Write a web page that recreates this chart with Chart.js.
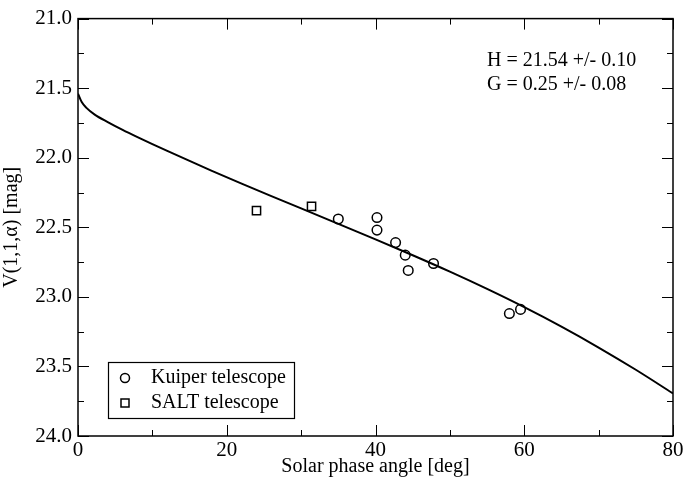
<!DOCTYPE html>
<html>
<head>
<meta charset="utf-8">
<style>
  html, body { margin: 0; padding: 0; background: #fff; }
  #wrap { width: 689px; height: 479px; }
</style>
<script src="https://cdn.jsdelivr.net/npm/chart.js@4/dist/chart.umd.min.js"></script>
</head>
<body>
<div id="wrap"><canvas id="phaseChart" width="689" height="479"></canvas></div>
<script>
// Kuiper telescope observations
const kuiperAngle = [35.0, 40.2, 40.2, 42.7, 44.0, 44.4, 47.8, 58.0, 59.5];
const kuiperMag = [22.44, 22.43, 22.52, 22.61, 22.70, 22.81, 22.76, 23.12, 23.09];

// SALT telescope observations
const saltAngle = [24.0, 31.4];
const saltMag = [22.38, 22.35];

// fitted phase curve
const fitAngle = [0, 0.5, 1.1, 2.25, 4, 6, 8, 10, 12, 15, 18, 22, 26, 30, 35, 40,
  45, 50, 55, 60, 65, 70, 75, 80];
const fitMag = [21.54, 21.60, 21.64, 21.69, 21.744, 21.80, 21.852, 21.902, 21.951, 22.023,
  22.094, 22.186, 22.276, 22.364, 22.475, 22.587, 22.701, 22.819, 22.943, 23.074,
  23.214, 23.364, 23.524, 23.694];

const xTicks = [0, 20, 40, 60, 80];
const yTicks = [21.0, 21.5, 22.0, 22.5, 23.0, 23.5, 24.0];

const fitText = ["H = 21.54 +/- 0.10", "G = 0.25 +/- 0.08"];
const legendLabels = ["Kuiper telescope", "SALT telescope"];

const serif = "'Liberation Serif', 'DejaVu Serif', serif";

function toPoints(xs, ys) {
  return xs.map((x, i) => ({ x: x, y: ys[i] }));
}

// box around plot plus inward ticks on all four sides
const frame = {
  id: "frame",
  afterDraw(chart) {
    const { ctx, chartArea: a, scales } = chart;
    ctx.save();
    ctx.strokeStyle = "#000";
    ctx.lineWidth = 1.5;
    ctx.strokeRect(a.left, a.top, a.right - a.left, a.bottom - a.top);

    ctx.lineWidth = 1;
    ctx.beginPath();
    for (let v = 0; v <= 80; v += 10) {
      const px = Math.round(scales.x.getPixelForValue(v)) + 0.5;
      const len = v % 20 === 0 ? 11 : 6;
      ctx.moveTo(px, a.bottom); ctx.lineTo(px, a.bottom - len);
      ctx.moveTo(px, a.top); ctx.lineTo(px, a.top + len);
    }
    for (let v = 21; v <= 24.001; v += 0.25) {
      const py = Math.round(scales.y.getPixelForValue(v)) + 0.5;
      const len = Math.abs(v * 2 - Math.round(v * 2)) < 1e-6 ? 11 : 6;
      ctx.moveTo(a.left, py); ctx.lineTo(a.left + len, py);
      ctx.moveTo(a.right, py); ctx.lineTo(a.right - len, py);
    }
    ctx.stroke();

    // fit parameters
    ctx.fillStyle = "#000";
    ctx.font = "20px " + serif;
    ctx.textBaseline = "middle";
    ctx.textAlign = "left";
    ctx.fillText(fitText[0], 487, 61);
    ctx.fillText(fitText[1], 487, 85);

    // legend box
    ctx.lineWidth = 1.2;
    ctx.strokeRect(108.5, 362.5, 186, 56);
    ctx.lineWidth = 1.5;
    ctx.beginPath();
    ctx.arc(125, 378, 4.5, 0, Math.PI * 2);
    ctx.stroke();
    ctx.strokeRect(121, 399, 8, 8);
    ctx.fillText(legendLabels[0], 151, 378);
    ctx.fillText(legendLabels[1], 151, 403);
    ctx.restore();
  }
};

new Chart(document.getElementById("phaseChart"), {
  type: "scatter",
  data: {
    datasets: [
      {
        label: "fit",
        type: "line",
        data: toPoints(fitAngle, fitMag),
        borderColor: "#000",
        borderWidth: 2,
        pointRadius: 0,
        fill: false,
        cubicInterpolationMode: "monotone",
      },
      {
        label: legendLabels[0],
        data: toPoints(kuiperAngle, kuiperMag),
        pointStyle: "circle",
        pointRadius: 4.8,
        borderColor: "#000",
        backgroundColor: "rgba(0,0,0,0)",
        borderWidth: 1.5,
      },
      {
        label: legendLabels[1],
        data: toPoints(saltAngle, saltMag),
        pointStyle: "rect",
        pointRadius: 5.8,
        borderColor: "#000",
        backgroundColor: "rgba(0,0,0,0)",
        borderWidth: 1.5,
      },
    ],
  },
  options: {
    responsive: false,
    animation: false,
    layout: { padding: { top: 16, right: 16, left: 0, bottom: 0 } },
    plugins: { legend: { display: false }, tooltip: { enabled: false } },
    scales: {
      x: {
        type: "linear",
        min: 0,
        max: 80,
        afterBuildTicks: s => { s.ticks = xTicks.map(v => ({ value: v })); },
        afterFit: s => { s.height = 43; },
        grid: { display: false, drawTicks: false },
        border: { display: false },
        ticks: { color: "#000", font: { family: serif, size: 21 }, padding: 2, maxRotation: 0 },
        title: { display: true, text: "Solar phase angle [deg]", color: "#000",
          font: { family: serif, size: 20 }, padding: { top: 0, bottom: 0 } },
      },
      y: {
        type: "linear",
        reverse: true,
        min: 21,
        max: 24,
        afterBuildTicks: s => { s.ticks = yTicks.map(v => ({ value: v })); },
        afterFit: s => { s.width = 78; },
        grid: { display: false, drawTicks: false },
        border: { display: false },
        ticks: { color: "#000", font: { family: serif, size: 21 }, padding: 6,
          callback: v => v.toFixed(1) },
        title: { display: true, text: "V(1,1,\u03b1) [mag]", color: "#000",
          font: { family: serif, size: 20 }, padding: { top: 0, bottom: 0 } },
      },
    },
  },
  plugins: [frame],
});
</script>
</body>
</html>
